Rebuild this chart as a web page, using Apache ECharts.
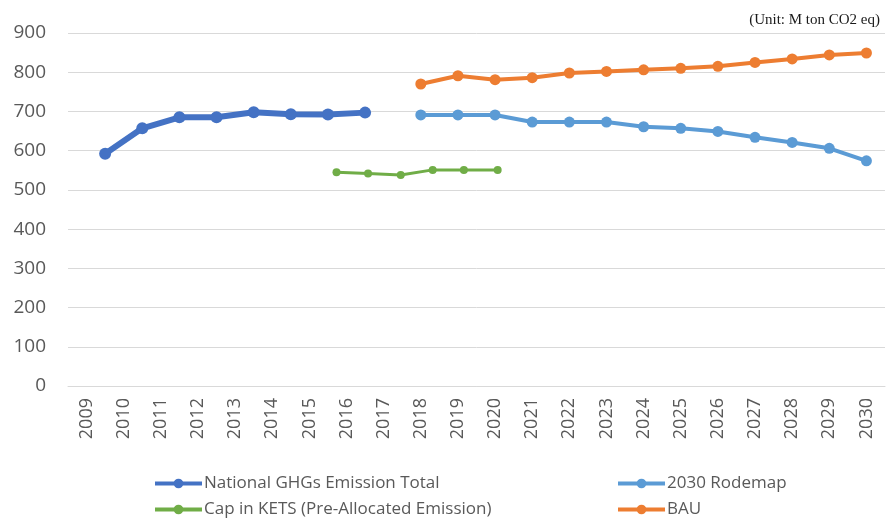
<!DOCTYPE html>
<html>
<head>
<meta charset="utf-8">
<script src="https://cdn.jsdelivr.net/npm/echarts@6/dist/echarts.min.js"></script>
<style>
html,body{margin:0;padding:0;background:#fff;}
#c{width:886px;height:524px;}
</style>
</head>
<body>
<div id="c"></div>
<script>
// Categories (x-axis tick labels)
var years = ['2009','2010','2011','2012','2013','2014','2015','2016','2017','2018','2019','2020',
             '2021','2022','2023','2024','2025','2026','2027','2028','2029','2030'];
var yTicks = [0, 900, 100]; // min, max, step

// National GHGs Emission Total (points sit between year labels in the original)
var nationalX    = [2009.5, 2010.5, 2011.5, 2012.5, 2013.5, 2014.5, 2015.5, 2016.5];
var nationalVals = [592, 657, 685, 685, 698, 693, 692, 697];

// Cap in KETS (Pre-Allocated Emission), positions
var capX    = [2015.73, 2016.58, 2017.46, 2018.32, 2019.16, 2020.07];
var capVals = [545, 542, 538, 551, 551, 551];

// 2030 Rodemap and BAU (2018–2030)
var roadmapYears = ['2018','2019','2020','2021','2022','2023','2024','2025','2026','2027','2028','2029','2030'];
var roadmapVals  = [691, 691, 691, 673, 673, 673, 661, 657, 649, 634, 621, 606, 574];
var bauVals      = [770, 791, 781, 786, 798, 802, 806, 810, 815, 825, 834, 844, 849];

var names = ['National GHGs Emission Total', 'Cap in KETS (Pre-Allocated Emission)', '2030 Rodemap', 'BAU'];
var colors = ['#4472C4', '#70AD47', '#5B9BD5', '#ED7D31'];

function zip(a, b) { return a.map(function (v, i) { return [v, b[i]]; }); }

var chart = echarts.init(document.getElementById('c'), null, {renderer: 'canvas'});
var fontFam = '"Open Sans", "Liberation Sans", sans-serif';
var txtColor = '#595959';

function legendCfg(items, left) {
  return {
    data: items,
    orient: 'vertical',
    left: left, top: 475, height: 60,
    padding: 0,
    itemWidth: 47, itemHeight: 12, itemGap: 9,
    lineStyle: {width: 4},
    textStyle: {fontFamily: fontFam, fontSize: 17, color: txtColor, padding: [0, 0, 0, -3]}
  };
}

chart.setOption({
  animation: false,
  backgroundColor: '#ffffff',
  grid: {left: 68, right: 1, top: 33, bottom: 138, containLabel: false},
  title: {
    text: '(Unit: M ton CO2 eq)',
    right: 1, top: 8,
    textStyle: {fontFamily: '"Liberation Serif", "DejaVu Serif", serif', fontSize: 15, fontWeight: 'normal', color: '#1a1a1a'}
  },
  legend: [legendCfg([names[0], names[1]], 153), legendCfg([names[2], names[3]], 616)],
  xAxis: [{
    type: 'category',
    data: years,
    boundaryGap: true,
    axisLine: {lineStyle: {color: '#d9d9d9', width: 1}},
    axisTick: {show: false},
    axisLabel: {rotate: 90, interval: 0, margin: 12, fontSize: 18, color: txtColor, fontFamily: fontFam}
  }, {
    type: 'value',
    min: 2008.5,
    max: 2030.5,
    show: false,
    splitLine: {show: false}
  }],
  yAxis: {
    type: 'value',
    min: yTicks[0], max: yTicks[1], interval: yTicks[2],
    axisLine: {show: false},
    axisTick: {show: false},
    splitLine: {lineStyle: {color: '#d9d9d9', width: 1}},
    axisLabel: {margin: 22, fontSize: 19, color: txtColor, fontFamily: fontFam}
  },
  series: [{
    name: names[0], type: 'line', xAxisIndex: 1,
    data: zip(nationalX, nationalVals),
    color: colors[0], symbol: 'circle', symbolSize: 12,
    lineStyle: {width: 6}
  }, {
    name: names[1], type: 'line', xAxisIndex: 1,
    data: zip(capX, capVals),
    color: colors[1], symbol: 'circle', symbolSize: 8,
    lineStyle: {width: 3}
  }, {
    name: names[2], type: 'line', xAxisIndex: 0,
    data: zip(roadmapYears, roadmapVals),
    color: colors[2], symbol: 'circle', symbolSize: 11,
    lineStyle: {width: 4}
  }, {
    name: names[3], type: 'line', xAxisIndex: 0,
    data: zip(roadmapYears, bauVals),
    color: colors[3], symbol: 'circle', symbolSize: 11,
    lineStyle: {width: 4}
  }]
});
</script>
</body>
</html>
